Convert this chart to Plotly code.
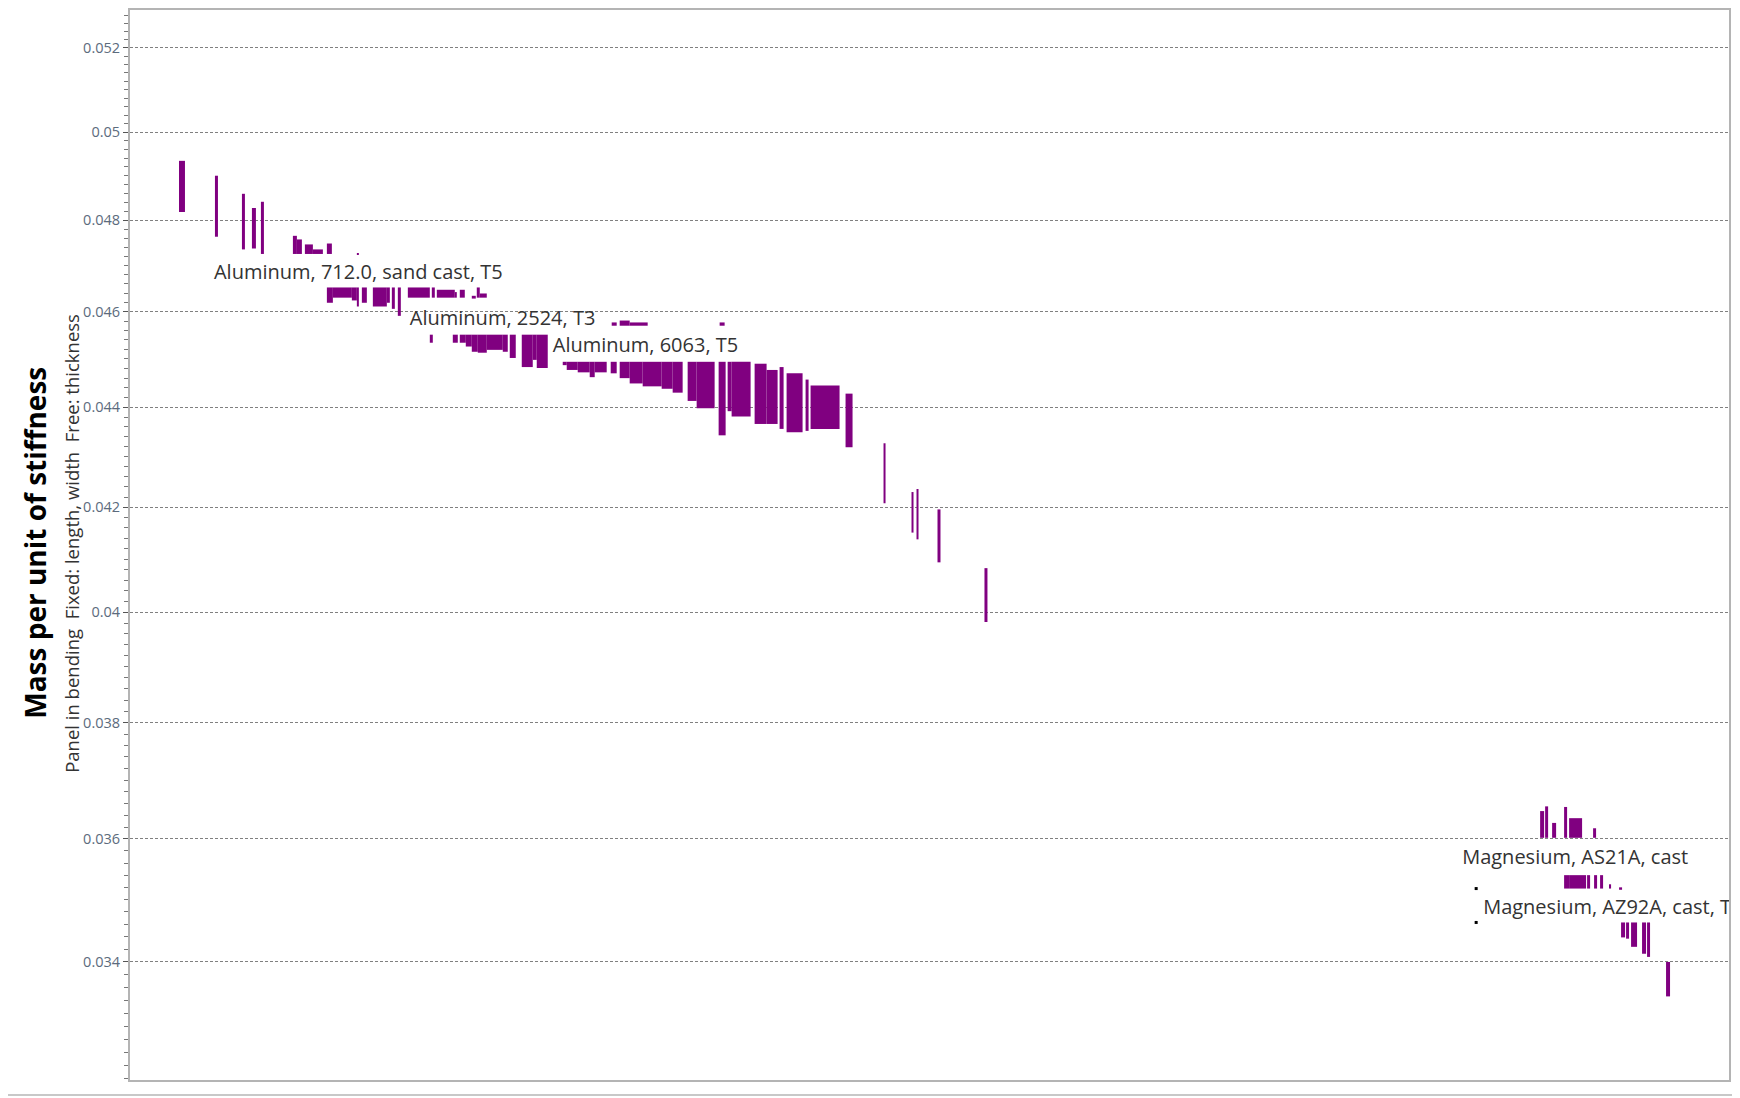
import plotly.graph_objects as go

# rank positions along the (hidden) x axis and min/max of each range bar
rank_start = [49, 85, 112, 122, 131, 163, 167, 175, 183, 197, 227,
              197, 203, 222, 227, 232, 243, 257, 262, 268, 278, 302, 307, 325, 330, 342, 347, 350,
              300, 323, 330, 336, 342, 348, 357, 373, 380, 392, 403, 407,
              482, 490, 500, 590,
              433, 437, 448, 460, 465, 481, 490, 500, 513, 532, 543, 558, 567, 589, 598, 602,
              625, 637, 650, 657, 676, 681, 716,
              754, 782, 787, 808, 855,
              1411, 1416, 1423, 1435, 1440, 1464,
              1435, 1440, 1458, 1465, 1471, 1480, 1490,
              1492, 1497, 1502, 1513, 1518, 1537]
rank_end = [55, 88, 115, 126, 134, 167, 172, 183, 193, 202, 229,
            203, 222, 227, 229, 237, 257, 260, 265, 271, 300, 305, 325, 327, 335, 346, 350, 357,
            303, 328, 336, 342, 348, 357, 373, 378, 386, 403, 407, 418,
            487, 500, 518, 595,
            437, 448, 460, 465, 477, 487, 500, 513, 532, 543, 553, 567, 585, 596, 602, 621,
            637, 648, 654, 673, 679, 710, 723,
            756, 784, 789, 811, 858,
            1415, 1419, 1427, 1438, 1453, 1467,
            1440, 1457, 1461, 1468, 1474, 1482, 1493,
            1496, 1500, 1508, 1517, 1521, 1541]
low = [0.04818, 0.04763, 0.04735, 0.04737, 0.04725, 0.04725, 0.04725, 0.04725, 0.04725, 0.04725, 0.04723,
       0.04619, 0.0463, 0.04624, 0.04611, 0.04619, 0.04611, 0.04619, 0.04606, 0.04591, 0.0463, 0.0463,
       0.0463, 0.0463, 0.0463, 0.04628, 0.0463, 0.0463,
       0.04534, 0.04534, 0.04534, 0.04526, 0.04515, 0.04513, 0.04519, 0.04515, 0.04502, 0.04483, 0.04498, 0.04481,
       0.0457, 0.0457, 0.0457, 0.0457,
       0.04487, 0.04477, 0.04472, 0.04462, 0.04472, 0.0447, 0.0446, 0.04449, 0.04443, 0.04438, 0.0443,
       0.04413, 0.04398, 0.04343, 0.04392, 0.04381,
       0.04366, 0.04366, 0.04356, 0.04349, 0.04352, 0.04356, 0.04319,
       0.04208, 0.04151, 0.04138, 0.04094, 0.03982,
       0.03602, 0.03602, 0.03602, 0.03602, 0.03602, 0.03602,
       0.03518, 0.03518, 0.03518, 0.03518, 0.03518, 0.03518, 0.03516,
       0.03439, 0.03437, 0.03424, 0.03413, 0.03408, 0.03346]
high = [0.04934, 0.0490, 0.04859, 0.04827, 0.04841, 0.04765, 0.04757, 0.04746, 0.04735, 0.04748, 0.04727,
        0.04652, 0.04652, 0.04652, 0.04652, 0.04652, 0.04652, 0.04652, 0.04652, 0.04652, 0.04652, 0.04652,
        0.04647, 0.04642, 0.04647, 0.04634, 0.04652, 0.04639,
        0.04551, 0.04551, 0.04551, 0.04551, 0.04551, 0.04551, 0.04551, 0.04551, 0.04551, 0.04551, 0.04551, 0.04551,
        0.04577, 0.04581, 0.04577, 0.04577,
        0.04494, 0.04494, 0.04494, 0.04494, 0.04494, 0.04494, 0.04494, 0.04494, 0.04494, 0.04494, 0.04494,
        0.04494, 0.04494, 0.04494, 0.04494, 0.04494,
        0.0449, 0.04477, 0.04483, 0.0447, 0.04457, 0.04445, 0.04428,
        0.04327, 0.0423, 0.04236, 0.04196, 0.04083,
        0.03647, 0.03655, 0.03627, 0.03654, 0.03635, 0.03618,
        0.0354, 0.0354, 0.0354, 0.0354, 0.0354, 0.03525, 0.0352,
        0.03463, 0.03463, 0.03463, 0.03463, 0.03463, 0.034]

label_text = ["Aluminum, 712.0, sand cast, T5", "Aluminum, 2524, T3", "Aluminum, 6063, T5",
              "Magnesium, AS21A, cast", "Magnesium, AZ92A, cast, T6"]
label_rank = [84, 280, 423, 1333, 1354]
label_value = [0.04681, 0.04582, 0.04525, 0.03566, 0.03485]

anchor_rank = [1347, 1347]
anchor_value = [0.03518, 0.03463]

y_ticks = [0.034, 0.036, 0.038, 0.04, 0.042, 0.044, 0.046, 0.048, 0.05, 0.052]
y_ticktext = ["0.034", "0.036", "0.038", "0.04", "0.042", "0.044", "0.046", "0.048", "0.05", "0.052"]

centers = [(a + b) / 2 for a, b in zip(rank_start, rank_end)]
widths = [b - a for a, b in zip(rank_start, rank_end)]
spans = [h - l for l, h in zip(low, high)]

fig = go.Figure()
fig.add_trace(go.Bar(x=centers, y=spans, base=low, width=widths,
                     marker=dict(color="#800080", line=dict(width=0)),
                     hoverinfo="skip"))
fig.add_trace(go.Scatter(x=anchor_rank, y=anchor_value, mode="markers",
                         marker=dict(symbol="square", size=3, color="black")))
fig.add_trace(go.Scatter(x=label_rank, y=label_value, mode="text", text=label_text,
                         textposition="middle right", cliponaxis=True,
                         textfont=dict(family="Open Sans", size=20, color="#333333")))

minor_vals = [round(0.0322 + 0.0002 * i, 4) for i in range(106)]
minor_vals = [v for v in minor_vals if v <= 0.0530 and v not in y_ticks]

fig.update_xaxes(range=[0, 1600], showticklabels=False, ticks="", showgrid=False,
                 zeroline=False, showline=True, mirror=True, linecolor="#b4b4b4", linewidth=2)
fig.update_yaxes(type="log", range=[-1.49235, -1.27635],
                 tickmode="array", tickvals=y_ticks, ticktext=y_ticktext,
                 ticks="outside", ticklen=5, tickcolor="#555555", tickwidth=1,
                 tickfont=dict(family="Open Sans", size=14.5, color="#5c6b7d"),
                 showgrid=True, gridcolor="#808080", griddash="3px,2px", gridwidth=1,
                 zeroline=False, showline=True, mirror=True, linecolor="#b4b4b4", linewidth=2,
                 minor=dict(tickmode="array", tickvals=minor_vals, ticks="outside",
                            ticklen=4, tickcolor="#777777", showgrid=False))

fig.add_annotation(text="<b>Mass per unit of stiffness</b>", textangle=-90,
                   xref="paper", yref="paper", x=-0.0595, y=0.502, showarrow=False,
                   xanchor="center", yanchor="middle",
                   font=dict(family="Open Sans", size=28, color="black"))
fig.add_annotation(text="Panel in bending  Fixed: length, width  Free: thickness", textangle=-90,
                   xref="paper", yref="paper", x=-0.0363, y=0.502, showarrow=False,
                   xanchor="center", yanchor="middle",
                   font=dict(family="Open Sans", size=18.5, color="#333333"))

fig.add_shape(type="line", xref="paper", yref="paper", x0=-0.0813, x1=1.0069, y0=-0.0140, y1=-0.0140,
              line=dict(color="#c8c8c8", width=2))

fig.update_layout(width=1740, height=1098, margin=dict(l=122, r=19, t=0, b=26),
                  plot_bgcolor="white", paper_bgcolor="white", showlegend=False,
                  barmode="overlay")

fig.write_html("out.html")
